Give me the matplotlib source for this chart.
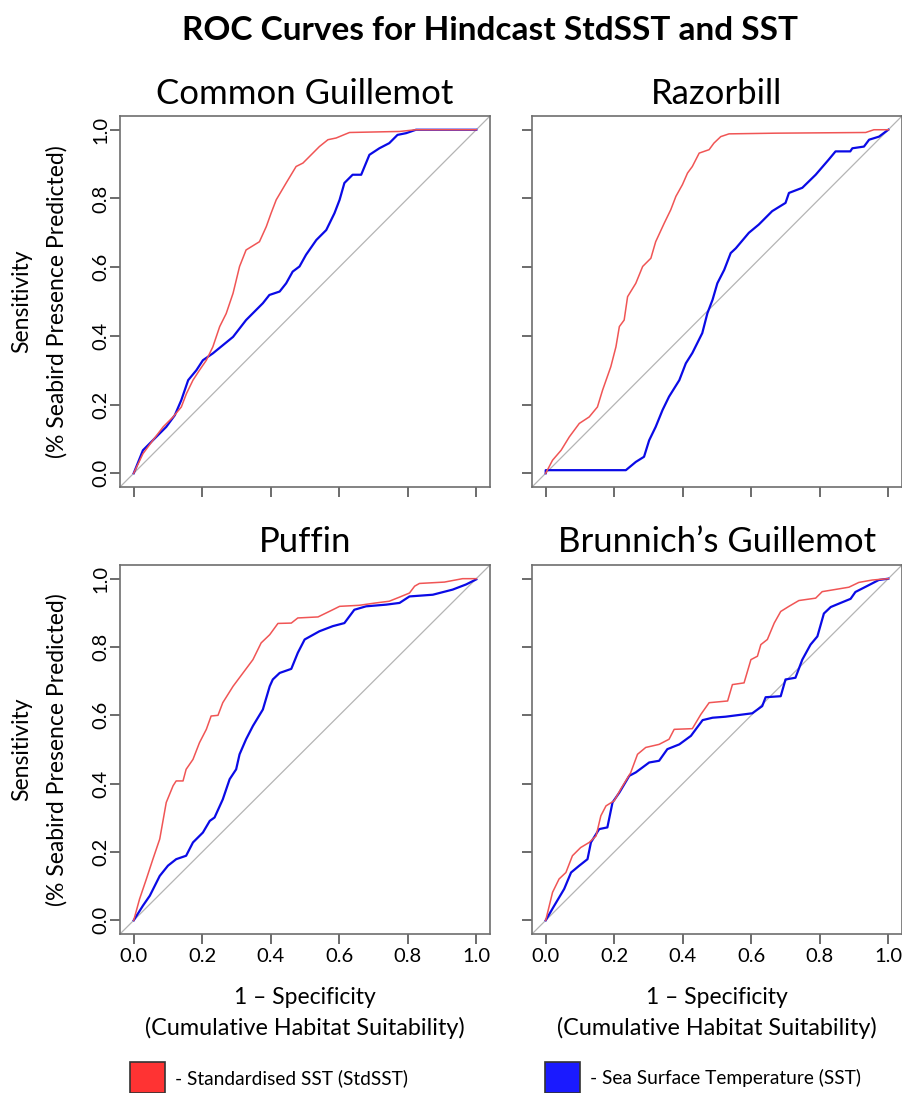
import matplotlib
matplotlib.use('Agg')
import matplotlib.pyplot as plt
from matplotlib.patches import Rectangle

plt.rcParams['font.family'] = ['Lato', 'DejaVu Sans']

# ROC curves: (1 - specificity, sensitivity)
guil_std_x = [0, 0.027, 0.056, 0.086, 0.115, 0.139, 0.154, 0.173, 0.192, 0.212, 0.231, 0.251, 0.27, 0.29, 0.309,
              0.328, 0.367, 0.387, 0.401, 0.416, 0.445, 0.474, 0.494, 0.523, 0.542, 0.567, 0.591, 0.62, 0.63,
              0.776, 0.824, 1.0]
guil_std_y = [0, 0.057, 0.096, 0.135, 0.164, 0.193, 0.232, 0.271, 0.30, 0.329, 0.368, 0.427, 0.465, 0.524, 0.602,
              0.65, 0.674, 0.718, 0.757, 0.796, 0.845, 0.893, 0.903, 0.932, 0.951, 0.971, 0.976, 0.988, 0.992,
              0.995, 1.0, 1.0]
guil_sst_x = [0, 0.027, 0.056, 0.095, 0.12, 0.139, 0.159, 0.183, 0.202, 0.231, 0.29, 0.328, 0.377, 0.396, 0.426,
              0.445, 0.464, 0.484, 0.503, 0.533, 0.562, 0.586, 0.601, 0.615, 0.639, 0.664, 0.688, 0.717, 0.746,
              0.77, 0.795, 0.824, 1.0]
guil_sst_y = [0, 0.067, 0.096, 0.135, 0.169, 0.213, 0.271, 0.30, 0.329, 0.349, 0.397, 0.446, 0.495, 0.519, 0.529,
              0.553, 0.587, 0.602, 0.636, 0.679, 0.708, 0.757, 0.796, 0.845, 0.869, 0.869, 0.927, 0.946, 0.961,
              0.985, 0.99, 1.0, 1.0]

razor_std_x = [0, 0.02, 0.045, 0.069, 0.098, 0.127, 0.151, 0.166, 0.19, 0.205, 0.215, 0.229, 0.239, 0.263, 0.283,
               0.307, 0.321, 0.346, 0.365, 0.38, 0.399, 0.414, 0.428, 0.448, 0.477, 0.491, 0.511, 0.535, 0.671,
               0.934, 0.958, 1.0]
razor_std_y = [0, 0.038, 0.067, 0.106, 0.145, 0.164, 0.193, 0.242, 0.31, 0.368, 0.427, 0.446, 0.514, 0.553, 0.602,
               0.626, 0.674, 0.728, 0.767, 0.806, 0.84, 0.874, 0.893, 0.932, 0.942, 0.961, 0.98, 0.988, 0.99,
               0.992, 1.0, 1.0]
razor_sst_x = [0, 0, 0.234, 0.263, 0.287, 0.302, 0.321, 0.341, 0.36, 0.39, 0.409, 0.428, 0.457, 0.472, 0.487,
               0.501, 0.521, 0.54, 0.555, 0.593, 0.622, 0.661, 0.7, 0.71, 0.749, 0.788, 0.826, 0.846, 0.889,
               0.895, 0.929, 0.944, 0.973, 1.0]
razor_sst_y = [0, 0.009, 0.009, 0.033, 0.048, 0.096, 0.135, 0.184, 0.223, 0.271, 0.32, 0.35, 0.408, 0.466, 0.505,
               0.553, 0.592, 0.641, 0.655, 0.7, 0.724, 0.763, 0.787, 0.816, 0.831, 0.869, 0.913, 0.937, 0.937,
               0.946, 0.951, 0.971, 0.98, 1.0]

puff_std_x = [0, 0.017, 0.037, 0.056, 0.076, 0.095, 0.115, 0.124, 0.144, 0.153, 0.173, 0.192, 0.212, 0.226, 0.246,
              0.26, 0.29, 0.319, 0.348, 0.372, 0.397, 0.421, 0.46, 0.479, 0.538, 0.581, 0.601, 0.658, 0.707,
              0.746, 0.776, 0.805, 0.82, 0.834, 0.907, 0.96, 1.0]
puff_std_y = [0, 0.062, 0.121, 0.179, 0.238, 0.345, 0.394, 0.408, 0.408, 0.442, 0.471, 0.52, 0.559, 0.598, 0.6,
              0.637, 0.685, 0.724, 0.763, 0.812, 0.836, 0.869, 0.87, 0.885, 0.888, 0.909, 0.919, 0.922, 0.929,
              0.934, 0.946, 0.958, 0.978, 0.986, 0.99, 1.0, 1.0]
puff_sst_x = [0, 0.027, 0.047, 0.076, 0.1, 0.124, 0.153, 0.173, 0.202, 0.222, 0.236, 0.26, 0.28, 0.299, 0.309,
              0.328, 0.348, 0.377, 0.397, 0.406, 0.426, 0.46, 0.479, 0.499, 0.542, 0.581, 0.615, 0.644, 0.678,
              0.737, 0.776, 0.805, 0.873, 0.931, 0.97, 1.0]
puff_sst_y = [0, 0.043, 0.072, 0.13, 0.16, 0.179, 0.189, 0.228, 0.257, 0.291, 0.301, 0.354, 0.413, 0.442, 0.486,
              0.53, 0.569, 0.617, 0.685, 0.705, 0.724, 0.736, 0.783, 0.822, 0.846, 0.861, 0.87, 0.909, 0.919,
              0.924, 0.929, 0.948, 0.953, 0.968, 0.983, 0.998]

brun_std_x = [0, 0.02, 0.039, 0.059, 0.078, 0.102, 0.127, 0.147, 0.161, 0.176, 0.2, 0.219, 0.248, 0.268, 0.292,
              0.331, 0.36, 0.375, 0.428, 0.453, 0.477, 0.531, 0.545, 0.579, 0.599, 0.618, 0.628, 0.647, 0.667,
              0.686, 0.71, 0.739, 0.788, 0.807, 0.837, 0.885, 0.914, 0.953, 1.0]
brun_std_y = [0, 0.082, 0.121, 0.14, 0.189, 0.213, 0.228, 0.247, 0.306, 0.335, 0.35, 0.384, 0.432, 0.486, 0.506,
              0.515, 0.53, 0.559, 0.561, 0.603, 0.637, 0.642, 0.69, 0.695, 0.763, 0.773, 0.807, 0.822, 0.87,
              0.904, 0.919, 0.936, 0.943, 0.962, 0.967, 0.975, 0.989, 0.996, 1.0]
brun_sst_x = [0, 0.025, 0.054, 0.074, 0.098, 0.122, 0.132, 0.156, 0.18, 0.195, 0.215, 0.244, 0.263, 0.302, 0.331,
              0.355, 0.39, 0.424, 0.438, 0.458, 0.487, 0.525, 0.603, 0.632, 0.642, 0.686, 0.7, 0.729, 0.749,
              0.773, 0.793, 0.812, 0.832, 0.856, 0.89, 0.904, 0.943, 0.972, 1.0]
brun_sst_y = [0, 0.043, 0.092, 0.14, 0.16, 0.179, 0.228, 0.267, 0.272, 0.345, 0.374, 0.423, 0.433, 0.462, 0.467,
              0.501, 0.515, 0.54, 0.559, 0.586, 0.593, 0.596, 0.606, 0.627, 0.653, 0.656, 0.705, 0.71, 0.763,
              0.807, 0.831, 0.898, 0.917, 0.927, 0.941, 0.961, 0.981, 0.996, 1.0]

titles = ['Common Guillemot', 'Razorbill', 'Puffin', 'Brunnich\u2019s Guillemot']
ticks = [0.0, 0.2, 0.4, 0.6, 0.8, 1.0]
tick_labels = ['0.0', '0.2', '0.4', '0.6', '0.8', '1.0']

panels = [(guil_std_x, guil_std_y, guil_sst_x, guil_sst_y),
          (razor_std_x, razor_std_y, razor_sst_x, razor_sst_y),
          (puff_std_x, puff_std_y, puff_sst_x, puff_sst_y),
          (brun_std_x, brun_std_y, brun_sst_x, brun_sst_y)]

W, H = 903, 1093
fig = plt.figure(figsize=(W / 100, H / 100), dpi=100)

# axes boxes in pixels: left, top, right, bottom
boxes = [(120, 116, 490, 487), (532, 116, 902, 487),
         (120, 565, 490, 934), (532, 565, 902, 934)]

red = '#f05555'
blue = '#0a0ae6'
frame = '#6e6e6e'

for i, (l, t, r, b) in enumerate(boxes):
    ax = fig.add_axes([l / W, 1 - b / H, (r - l) / W, (b - t) / H])
    sx, sy, tx, ty = panels[i]
    ax.plot([-0.04, 1.04], [-0.04, 1.04], color='#b4b4b4', lw=0.9)
    ax.plot(tx, ty, color=blue, lw=1.6)
    ax.plot(sx, sy, color=red, lw=1.1)
    ax.set_xlim(-0.04, 1.04)
    ax.set_ylim(-0.04, 1.04)
    ax.set_xticks(ticks)
    ax.set_yticks(ticks)
    for s in ax.spines.values():
        s.set_color(frame)
        s.set_linewidth(1.2)
    ax.tick_params(length=7, width=1.1, color='#444444', labelsize=14.5, pad=3)
    if i >= 2:
        ax.set_xticklabels(tick_labels)
        ax.tick_params(axis='x', pad=3)
    else:
        ax.set_xticklabels([])
    if i % 2 == 0:
        ax.set_yticklabels(tick_labels, rotation=90, va='center')
        ax.tick_params(axis='y', pad=1)
    else:
        ax.set_yticklabels([])
    ax.set_title(titles[i], fontsize=25, pad=9)

fig.text(490 / W, 1 - 30 / H, 'ROC Curves for Hindcast StdSST and SST', ha='center', va='center',
         fontsize=24, fontweight='bold')

for yc in [(116 + 487) / 2, (565 + 934) / 2]:
    fig.text(22 / W, 1 - yc / H, 'Sensitivity', rotation=90, ha='center', va='center', fontsize=16.5)
    fig.text(57 / W, 1 - yc / H, '(% Seabird Presence Predicted)', rotation=90, ha='center', va='center',
             fontsize=16.5)

for xc in [305, 717]:
    fig.text(xc / W, 1 - 998 / H, '1 \u2013 Specificity', ha='center', va='center', fontsize=16.5)
    fig.text(xc / W, 1 - 1028 / H, '(Cumulative Habitat Suitability)', ha='center', va='center', fontsize=16.8)

# legend squares and labels
fig.patches.append(Rectangle((130 / W, 1 - 1093 / H), 35 / W, 31 / H, transform=fig.transFigure,
                             facecolor='#ff3333', edgecolor='#333333', lw=1.2))
fig.patches.append(Rectangle((545 / W, 1 - 1093 / H), 35 / W, 31 / H, transform=fig.transFigure,
                             facecolor='#1a1aff', edgecolor='#333333', lw=1.2))
fig.text(175 / W, 1 - 1078 / H, '- Standardised SST (StdSST)', ha='left', va='center', fontsize=13.8)
fig.text(590 / W, 1 - 1078 / H, '- Sea Surface Temperature (SST)', ha='left', va='center', fontsize=13.8)

fig.savefig('out.png', dpi=100)
